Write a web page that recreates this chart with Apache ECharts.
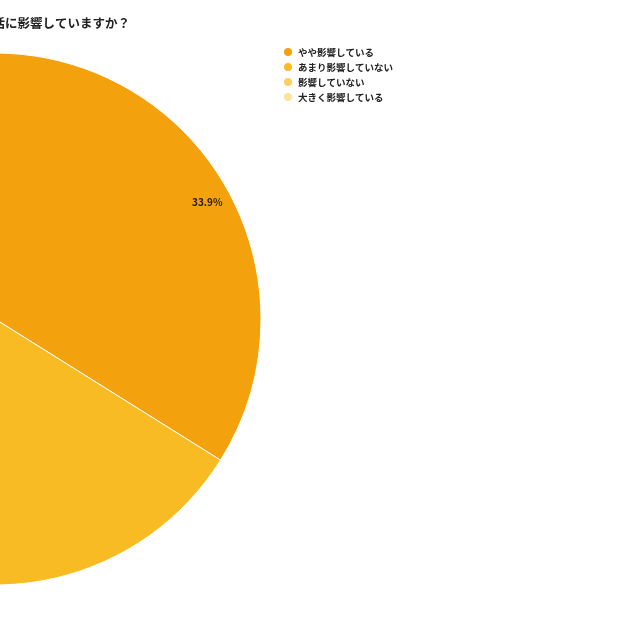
<!DOCTYPE html>
<html>
<head>
<meta charset="utf-8">
<script src="https://cdn.jsdelivr.net/npm/echarts@6/dist/echarts.min.js"></script>
<style>
  html, body { margin: 0; padding: 0; background: #fff; }
  #chart { width: 640px; height: 640px; }
</style>
</head>
<body>
<div id="chart"></div>
<script>
// answers, in legend order
const categories = ['やや影響している', 'あまり影響していない', '影響していない', '大きく影響している'];
const shares = [33.9, 35.6, 20.3, 10.2];
const colors = ['#F4A10E', '#F9BB23', '#FBCF5E', '#FCE49A'];

const pieData = categories.map((name, i) => ({ name: name, value: shares[i] }));

const myChart = echarts.init(document.getElementById('chart'));

const option = {
    textStyle: { fontFamily: '"Noto Sans CJK JP", "Noto Sans", sans-serif' },
    title: {
        text: '生活に影響していますか？',
        left: -25,
        top: 12,
        textStyle: { fontSize: 12.5, fontWeight: 'bold', color: '#222' }
    },
    color: colors,
    legend: {
        orient: 'vertical',
        left: 277,
        top: 41,
        icon: 'circle',
        itemWidth: 10,
        itemHeight: 10,
        itemGap: 3,
        data: categories,
        textStyle: { fontSize: 9.5, fontWeight: 'bold', color: '#222', lineHeight: 11 }
    },
    series: [
        {
            type: 'pie',
            center: [-5, 319],
            radius: 266,
            startAngle: 90,
            clockwise: true,
            data: pieData,
            label: { show: false },
            labelLine: { show: false },
            itemStyle: { borderColor: '#fff', borderWidth: 1 },
            emphasis: { disabled: true }
        },
        {
            // transparent ring that only carries the percentage labels
            type: 'pie',
            center: [-5, 319],
            radius: [218, 266],
            startAngle: 90,
            clockwise: true,
            percentPrecision: 1,
            silent: true,
            data: pieData,
            itemStyle: { color: 'transparent' },
            label: {
                show: true,
                position: 'inside',
                formatter: '{d}%',
                fontSize: 10,
                fontWeight: 'bold',
                color: '#222',
                offset: [-2, 2]
            },
            labelLine: { show: false },
            emphasis: { disabled: true }
        }
    ]
};

myChart.setOption(option);
</script>
</body>
</html>
